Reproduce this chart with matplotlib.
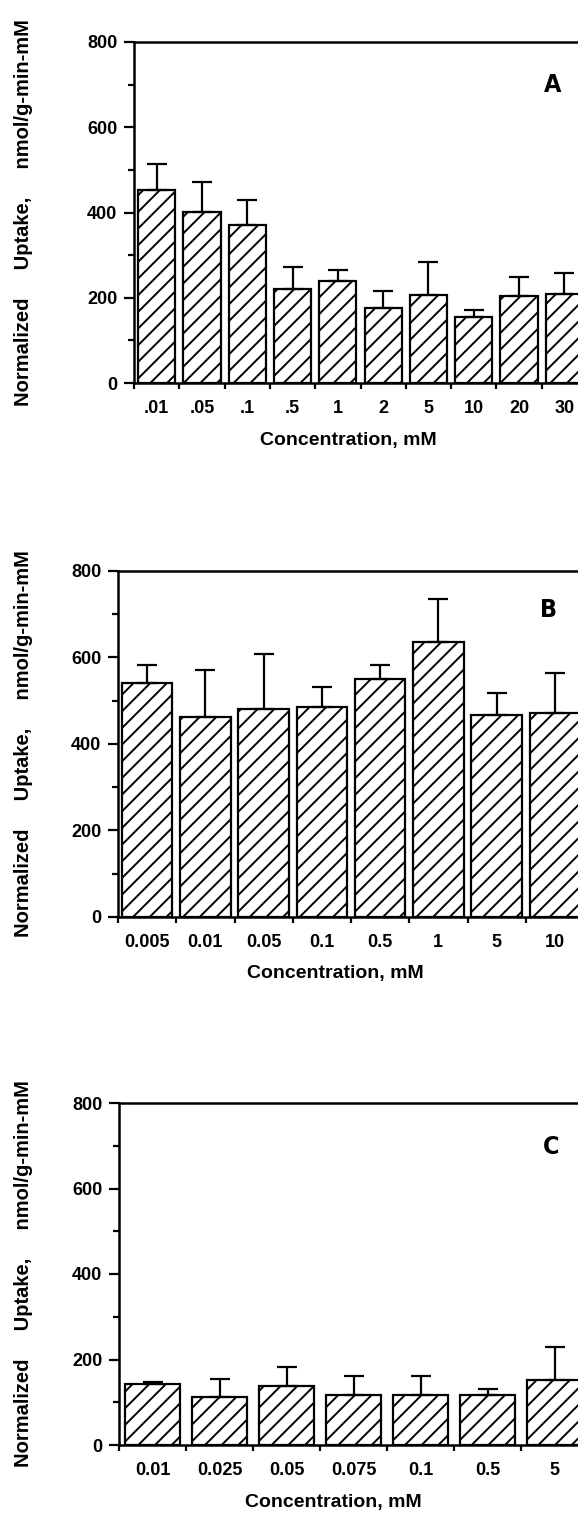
import numpy as np
import matplotlib
matplotlib.use('Agg')
import matplotlib.pyplot as plt

plt.rcParams['font.family'] = ['Liberation Sans', 'DejaVu Sans']
plt.rcParams['font.weight'] = 'bold'
plt.rcParams['hatch.linewidth'] = 1.4

# panel A
labels_a = ['.01', '.05', '.1', '.5', '1', '2', '5', '10', '20', '30']
uptake_a = [452, 402, 371, 220, 240, 176, 206, 156, 205, 209]
err_a = [61, 69, 59, 51, 25, 39, 78, 16, 44, 49]

# panel B
labels_b = ['0.005', '0.01', '0.05', '0.1', '0.5', '1', '5', '10']
uptake_b = [542, 462, 481, 486, 551, 636, 467, 472]
err_b = [40, 109, 128, 46, 31, 99, 50, 93]

# panel C
labels_c = ['0.01', '0.025', '0.05', '0.075', '0.1', '0.5', '5']
uptake_c = [143, 112, 137, 117, 117, 117, 151]
err_c = [5, 42, 45, 45, 45, 14, 79]

W, H = 578, 1513
fig = plt.figure(figsize=(W / 100, H / 100), dpi=100)

ylab = 'Normalized     Uptake,     nmol/g-min-mM'


def panel(box, labels, vals, errs, letter, letter_xy, title_x, width):
    l, t, r, b = box
    ax = fig.add_axes([l / W, 1 - b / H, (r - l) / W, (b - t) / H])
    x = np.arange(len(vals)) + 0.5
    ax.bar(x, vals, width=width, color='white', edgecolor='black',
           linewidth=1.6, hatch='//', zorder=2)
    ax.errorbar(x, vals, yerr=[np.zeros(len(vals)), errs], fmt='none',
                ecolor='black', elinewidth=1.6, capsize=7, capthick=1.6, zorder=3)
    ax.set_xlim(0, len(vals))
    ax.set_ylim(0, 800)
    ax.set_yticks([0, 200, 400, 600, 800])
    ax.set_yticks([100, 300, 500, 700], minor=True)
    ax.set_xticks(np.arange(len(vals) + 1))
    ax.set_xticklabels([])
    ax.set_xticks(x, labels, minor=True)
    ax.tick_params(axis='y', which='major', direction='out', length=7, width=1.6,
                   labelsize=13, pad=5)
    ax.tick_params(axis='y', which='minor', direction='out', length=4, width=1.6)
    ax.tick_params(axis='x', which='major', direction='out', length=4, width=1.6)
    ax.tick_params(axis='x', which='minor', length=0, labelsize=13, pad=12)
    for s in ax.spines.values():
        s.set_linewidth(1.8)
    ax.text(title_x, -57 / (b - t), 'Concentration, mM', transform=ax.transAxes,
            ha='center', va='center', fontsize=14, fontweight='bold')
    ax.text(letter_xy[0], letter_xy[1], letter, transform=ax.transAxes,
            ha='center', va='center', fontsize=18, family='DejaVu Sans',
            fontstretch='condensed', fontweight='bold')
    fig.text(24 / W, 1 - (t + b) / 2 / H, ylab, rotation=90, ha='center',
             va='center', fontsize=14.5, fontweight='bold')
    return ax


panel((134, 42, 587, 383), labels_a, uptake_a, err_a, 'A', (0.923, 0.874), 0.472, 0.82)
panel((118, 571, 584, 917), labels_b, uptake_b, err_b, 'B', (0.925, 0.887), 0.466, 0.87)
panel((119, 1103, 588, 1445), labels_c, uptake_c, err_c, 'C', (0.921, 0.871), 0.458, 0.82)

fig.savefig('out.png', dpi=100)
